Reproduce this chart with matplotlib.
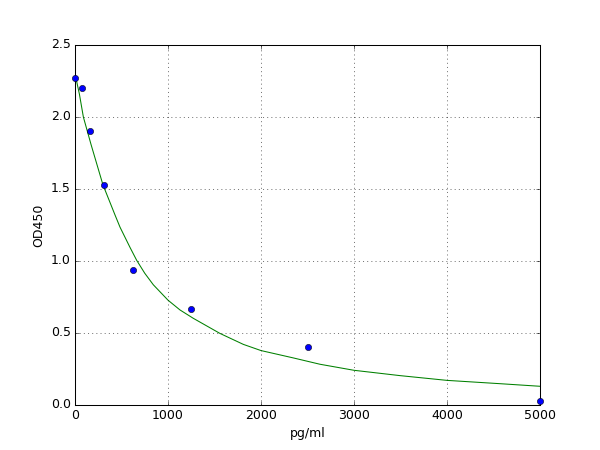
import matplotlib
matplotlib.use("Agg")
import matplotlib.pyplot as plt

plt.style.use("classic")

conc = [0, 78, 156, 312, 625, 1250, 2500, 5000]
od = [2.27, 2.20, 1.90, 1.53, 0.94, 0.67, 0.40, 0.03]

curve_x = [0, 47, 90, 172, 300, 430, 484, 591, 663, 750, 842, 1000, 1129,
           1272, 1559, 1810, 2000, 2347, 2634, 3000, 3495, 4000, 4570, 5000]
curve_y = [2.30, 2.16, 2.00, 1.81, 1.53, 1.32, 1.235, 1.095, 1.005, 0.915,
           0.835, 0.728, 0.660, 0.602, 0.497, 0.421, 0.378, 0.327, 0.283,
           0.241, 0.204, 0.171, 0.148, 0.130]

fig = plt.figure(figsize=(8, 6), dpi=75, facecolor="white")
ax = fig.add_subplot(111)
ax.plot(conc, od, "bo", markersize=6, clip_on=False, zorder=3)
ax.plot(curve_x, curve_y, "g-", linewidth=1)
ax.set_xlim(0, 5000)
ax.set_ylim(0, 2.5)
ax.set_xlabel("pg/ml")
ax.set_ylabel("OD450")
ax.grid(True)
fig.savefig("out.png", dpi=75, facecolor="white")
